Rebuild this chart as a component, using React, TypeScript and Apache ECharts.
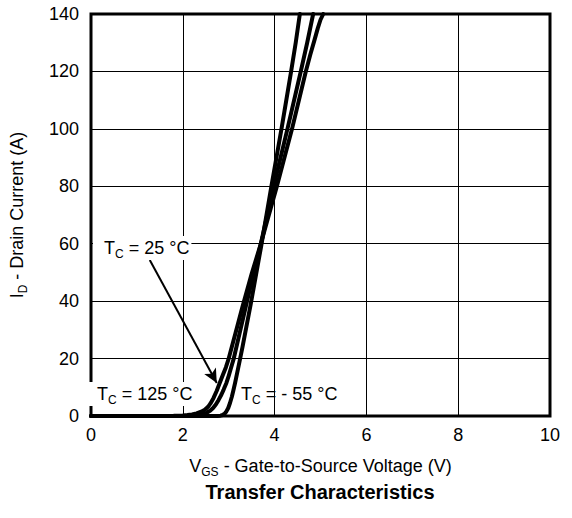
import React, { useEffect, useRef } from "react";
import * as echarts from "echarts";

// Tc = 125 °C
const t125: [number, number][] = [
  [0, 0], [1.5, 0], [1.8, 0.05], [2.0, 0.2], [2.1, 0.35], [2.2, 0.55], [2.3, 0.9],
  [2.4, 1.5], [2.48, 2.2], [2.55, 3.2], [2.6, 4.3], [2.67, 6.3], [2.74, 8.8],
  [2.8, 11.3], [2.87, 14.2], [2.94, 17], [3.0, 20], [3.15, 29], [3.3, 38], [3.5, 49.5],
  [3.7, 60], [4.05, 80], [4.38, 100], [4.68, 120], [4.78, 126], [4.87, 131],
  [4.94, 135], [5.0, 138], [5.06, 140],
];
// Tc = 25 °C
const t25: [number, number][] = [
  [0, 0], [2.0, 0], [2.2, 0.1], [2.35, 0.35], [2.45, 0.7], [2.53, 1.2], [2.6, 1.9],
  [2.66, 2.8], [2.72, 4], [2.78, 5.6], [2.84, 7.4], [2.89, 9.2], [2.95, 11.5],
  [3.0, 14], [3.05, 16.7], [3.11, 20], [3.4, 40], [3.7, 60], [3.98, 80], [4.28, 100],
  [4.57, 120], [4.71, 130], [4.84, 140],
];
// Tc = -55 °C
const tm55: [number, number][] = [
  [0, 0], [2.75, 0], [2.82, 0.1], [2.87, 0.35], [2.91, 0.8], [2.95, 1.6], [2.99, 2.8],
  [3.03, 4.6], [3.07, 6.8], [3.1, 8.8], [3.14, 11.6], [3.18, 14.7], [3.23, 18.5],
  [3.3, 24], [3.48, 39], [3.7, 58.5], [3.93, 80], [4.15, 100], [4.36, 120],
  [4.46, 130], [4.55, 140],
];
// arrow from the 25 °C label to its curve (data coords)
const arrowFrom: [number, number] = [1.28, 54.3];
const arrowTo: [number, number] = [2.74, 11.5];

const xTicks = { min: 0, max: 10, interval: 2 };
const yTicks = { min: 0, max: 140, interval: 20 };

const FONT = "'Liberation Sans', Arial, Helvetica, sans-serif";

export default function App() {
  const ref = useRef<HTMLDivElement>(null);
  useEffect(() => {
    if (!ref.current) return;
    const chart = echarts.init(ref.current, undefined, { renderer: "svg" });
    const lineStyle = { color: "#000", width: 4, join: "round", cap: "round" };
    const mk = (name: string, data: [number, number][], extra: any = {}) => ({
      name,
      type: "line",
      data,
      showSymbol: false,
      symbol: "none",
      smooth: false,
      lineStyle,
      itemStyle: { color: "#000" },
      silent: true,
      ...extra,
    });
    const subRich = {
      n: { fontSize: 18, fontFamily: FONT, color: "#000", lineHeight: 24 },
      s: { fontSize: 12, fontFamily: FONT, color: "#000", verticalAlign: "bottom", lineHeight: 14 },
    };
    const label = (txt: string, x: number, y: number, bg: boolean) => ({
      type: "text",
      x,
      y,
      z: 100,
      style: {
        text: `{n|T}{s|C}{n|${txt}}`,
        rich: subRich,
        verticalAlign: "middle",
        align: "left",
        backgroundColor: bg ? "#fff" : undefined,
        padding: bg ? [0, 2, 0, 11] : 0,
      },
    });
    chart.setOption({
      animation: false,
      grid: {
        left: 89,
        right: 22,
        top: 14,
        bottom: 102,
        show: true,
        borderColor: "#000",
        borderWidth: 3,
        backgroundColor: "transparent",
      },
      xAxis: {
        type: "value",
        ...xTicks,
        name: "{n|V}{s|GS}{n| - Gate-to-Source Voltage (V)}",
        nameLocation: "middle",
        nameGap: 38,
        nameTextStyle: { rich: subRich },
        axisLine: { show: false },
        axisTick: { show: false },
        axisLabel: { fontSize: 18, fontFamily: FONT, color: "#000", margin: 10 },
        splitLine: { show: true, lineStyle: { color: "#000", width: 1 } },
      },
      yAxis: {
        type: "value",
        ...yTicks,
        name: "{n|I}{s|D}{n| - Drain Current (A)}",
        nameLocation: "middle",
        nameGap: 62,
        nameTextStyle: { rich: subRich },
        axisLine: { show: false },
        axisTick: { show: false },
        axisLabel: { fontSize: 18, fontFamily: FONT, color: "#000", margin: 12 },
        splitLine: { show: true, lineStyle: { color: "#000", width: 1 } },
      },
      series: [
        mk("125", t125),
        mk("25", t25, {
          markLine: {
            silent: true,
            symbol: ["none", "arrow"],
            symbolSize: [10, 14],
            label: { show: false },
            lineStyle: { color: "#000", width: 2, type: "solid" },
            data: [[{ coord: arrowFrom }, { coord: arrowTo }]],
          },
        }),
        mk("-55", tm55),
      ],
      graphic: [
        label(" = 25 °C", 93, 248, true),
        label(" = 125 °C", 86, 394, true),
        label(" = - 55 °C", 241, 394, false),
        {
          type: "text",
          x: 320,
          y: 492,
          style: {
            text: "Transfer Characteristics",
            font: `bold 20px ${FONT}`,
            fill: "#000",
            align: "center",
            verticalAlign: "middle",
          },
        },
      ],
    });
    return () => chart.dispose();
  }, []);
  return (
    <div
      ref={ref}
      style={{ position: "fixed", left: 0, top: 0, width: 572, height: 518, background: "#fff" }}
    />
  );
}
